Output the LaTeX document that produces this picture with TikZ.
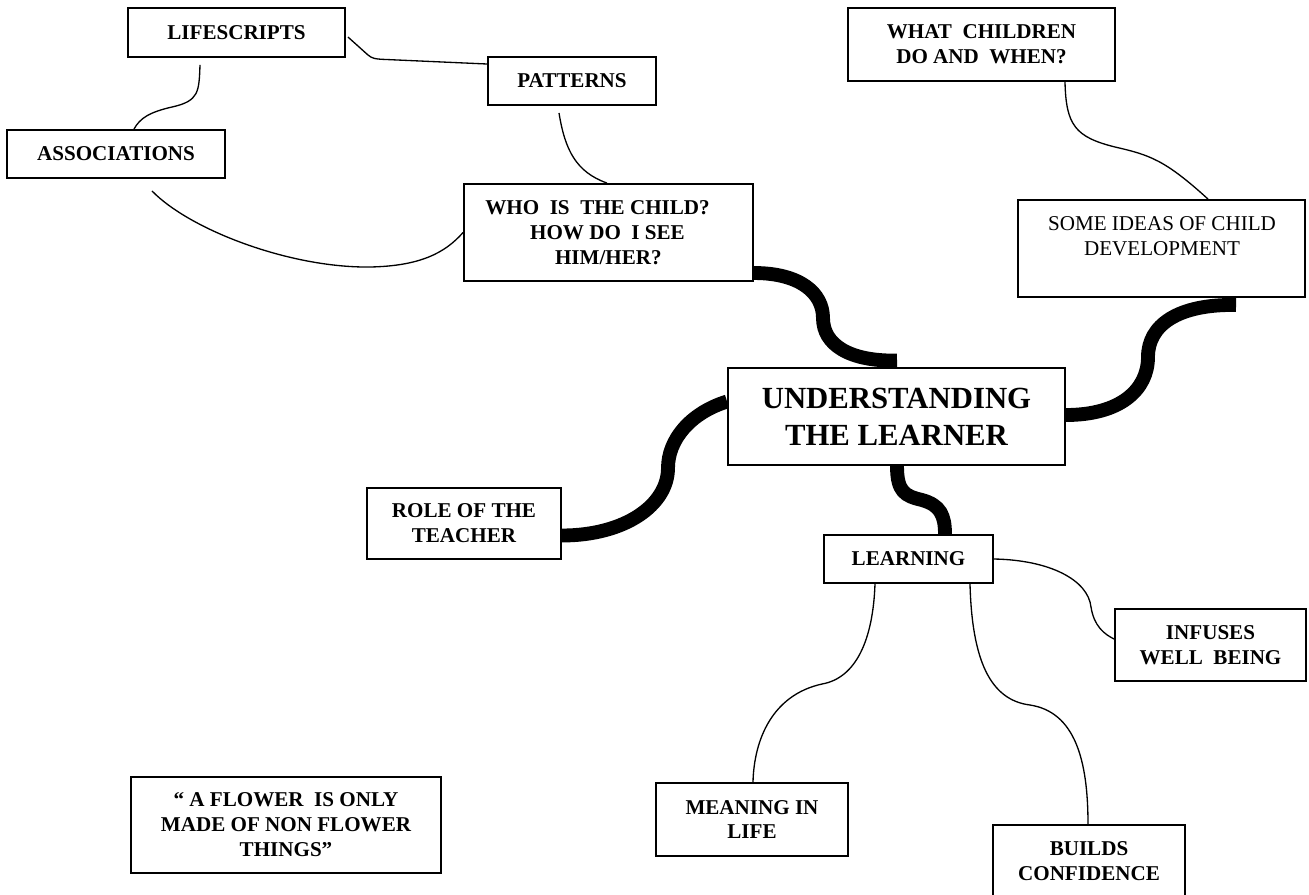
\documentclass[tikz,border=0pt]{standalone}
\usepackage{fontspec}
\setmainfont{Liberation Serif}
\usetikzlibrary{calc,backgrounds}
\newlength\pxu
\setlength\pxu{0.5669pt}
\begin{document}
\begin{tikzpicture}[x=0.02cm,y=-0.02cm,
  box/.style={draw, line width=1.1pt, rectangle, fill=white, inner sep=0pt, align=center,
              font=\bfseries\fontsize{12}{14.2}\selectfont},
  label text/.style={inner sep=0pt, font=\bfseries\fontsize{12}{14.2}\selectfont},
  link/.style={line width=0.75pt},
  trunk/.style={line width=7.9pt, line cap=butt},
]
\useasboundingbox (0,0) rectangle (1309,894);

% ---- boxes ----
\node[box, minimum width=4.34cm, minimum height=0.98cm] (life) at (236.5,32.5) {LIFESCRIPTS};
\node[box, minimum width=3.36cm, minimum height=0.96cm] (pat) at (572,81) {PATTERNS};
\node[box, minimum width=4.36cm, minimum height=0.96cm] (assoc) at (116,154) {ASSOCIATIONS};
\node[box, minimum width=5.78cm, minimum height=1.94cm] (who) at (608.5,232.5) {};
\node[label text, anchor=west, align=left] (whotext) at (485,232.5)
  {WHO\ \ IS\ \ THE CHILD?\\\hspace*{45\pxu}HOW DO\ \ I SEE\\\hspace*{70\pxu}HIM/HER?};
\node[box, minimum width=5.34cm, minimum height=1.46cm] (what) at (981.5,44.5)
  {WHAT\ \ CHILDREN\\DO AND\ \ WHEN?};
\node[box, minimum width=5.74cm, minimum height=1.94cm] (some) at (1161.5,248.5) {};
\node[inner sep=0pt, align=center, font=\fontsize{12}{14.2}\selectfont] (sometext) at (1162,236.5)
  {SOME IDEAS OF CHILD\\DEVELOPMENT};
\node[box, minimum width=6.74cm, minimum height=1.94cm,
      font=\bfseries\fontsize{17.5}{21}\selectfont] (und) at (896.5,416.5)
  {UNDERSTANDING\\THE LEARNER};
\node[box, minimum width=3.88cm, minimum height=1.42cm] (role) at (464,523.5) {ROLE OF THE\\TEACHER};
\node[box, minimum width=3.38cm, minimum height=0.96cm] (learn) at (908.5,559) {LEARNING};
\node[box, minimum width=3.82cm, minimum height=1.44cm] (infuses) at (1210.5,645) {INFUSES\\WELL\ \ BEING};
\node[box, minimum width=3.84cm, minimum height=1.46cm] (meaning) at (752,819.5) {MEANING IN\\LIFE};
\node[box, minimum width=3.84cm, minimum height=1.46cm] (builds) at (1089,861.5) {BUILDS\\CONFIDENCE};
\node[box, minimum width=6.20cm, minimum height=1.92cm] (flower) at (286,825)
  {“ A FLOWER\ \ IS ONLY\\MADE OF NON FLOWER\\THINGS”};

\begin{scope}[on background layer]
% ---- thick main branches ----
\draw[trunk] ($(who.east)+(0,40.5)$) .. controls (800,273) and (823,293) .. (823,318)
  .. controls (823,345) and (850,361.5) .. ($(und.north)+(0.5,-6.5)$);
\draw[trunk] ($(und.east)+(0,-1.5)$) .. controls (1120,415) and (1148,390) .. (1148,357)
  .. controls (1148,325) and (1178,304) .. ($(some.south)+(74.5,7)$);
\draw[trunk] ($(und.west)+(0,-15)$) .. controls (690,413) and (668,440) .. (668,468)
  .. controls (668,505) and (625,535.5) .. ($(role.east)+(0,12)$);
\draw[trunk] ($(und.south)+(0.5,0)$) .. controls (897,492) and (905,496) .. (922,500)
  .. controls (940,505) and (945,515) .. ($(learn.north)+(36.5,0)$);

% ---- thin links ----
\draw[link] ($(life.east)+(2,4.5)$) -- (368,55) .. controls (372,58.5) and (376,59) .. (382,59.3)
  -- ($(pat.west)+(0,-17)$);
\draw[link] ($(life.south)+(-36.5,7)$) .. controls (199,92) and (199,101) .. (172,107)
  .. controls (150,112) and (140,118) .. ($(assoc.north)+(18,0)$);
\draw[link] ($(assoc.south)+(36,12)$) .. controls (190,230) and (290,268) .. (370,267)
  .. controls (420,266) and (445,253) .. (who.west);
\draw[link] ($(pat.south)+(-13,7)$) .. controls (565,150) and (576,172) .. ($(who.north)+(-1.5,0)$);
\draw[link] ($(what.south)+(83.5,0)$) .. controls (1066,125) and (1075,137) .. (1115,147)
  .. controls (1150,155) and (1165,160) .. ($(some.north)+(46.5,0)$);
\draw[link] ($(learn.east)+(0,0)$) .. controls (1050,560) and (1088,580) .. (1091,607)
  .. controls (1094,626) and (1104,634) .. ($(infuses.west)+(0,-6)$);
\draw[link] ($(learn.south)+(-33.5,0)$) .. controls (873,640) and (856,678) .. (822,684)
  .. controls (772,695) and (754,740) .. ($(meaning.north)+(1,0)$);
\draw[link] ($(learn.south)+(61.5,0)$) .. controls (972,660) and (990,700) .. (1030,705)
  .. controls (1075,712) and (1088,760) .. ($(builds.north)+(-1,0)$);
\end{scope}
\end{tikzpicture}
\end{document}
